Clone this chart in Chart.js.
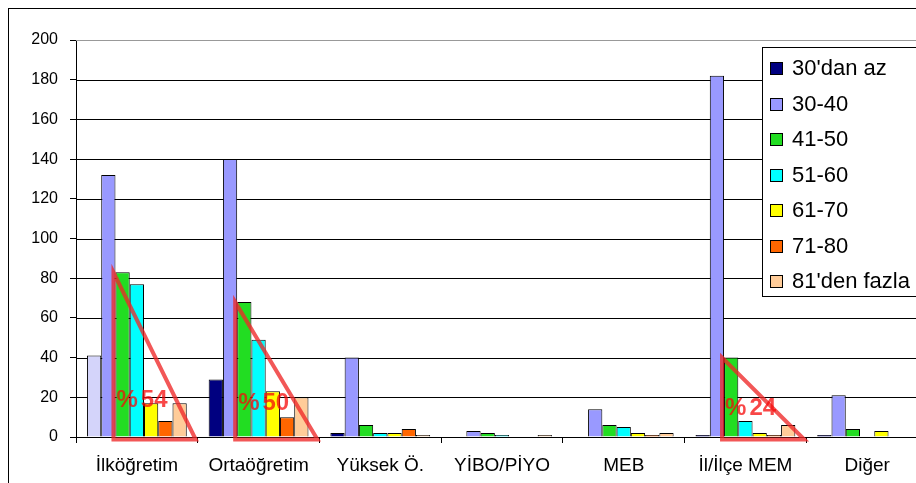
<!DOCTYPE html>
<html lang="tr">
<head>
<meta charset="utf-8">
<title>Yaş dağılımı</title>
<script src="https://cdn.jsdelivr.net/npm/chart.js@4.4.0/dist/chart.umd.min.js"></script>
<style>
html, body { margin: 0; padding: 0; background: #fff; overflow: hidden; }
#cerceve { position: absolute; left: 8px; top: 8px; width: 960px; height: 500px; border: 1px solid #000; }
#kutu { position: absolute; left: 0; top: 0; width: 940px; height: 483px; }
</style>
</head>
<body>
<div id="cerceve"></div>
<div id="kutu"><canvas id="GrafikYas" width="940" height="483"></canvas></div>
<script>
// kurum türleri ve yaş grupları
var kategoriler = ['İlköğretim', 'Ortaöğretim', 'Yüksek Ö.', 'YİBO/PİYO', 'MEB', 'İl/İlçe MEM', 'Diğer'];
var seriAdlari = ["30'dan az", '30-40', '41-50', '51-60', '61-70', '71-80', "81'den fazla"];

var yas30dan = [41, 29, 2, 0, 0, 1, 1];
var yas30_40 = [132, 140, 40, 3, 14, 182, 21];
var yas41_50 = [83, 68, 6, 2, 6, 40, 4];
var yas51_60 = [77, 49, 2, 1, 5, 8, 0];
var yas61_70 = [17, 23, 2, 0, 2, 2, 3];
var yas71_80 = [8, 10, 4, 0, 1, 1, 0];
var yas81den = [17, 20, 1, 1, 2, 6, 0];

var yMin = 0, yMax = 200, yAdim = 20;

// üçgenle işaretlenen kurumlar (41 yaş ve üstü oranı yazılır)
var vurgulananlar = [0, 1, 5];

var renkler = ['#000080', '#9999ff', '#22dd22', '#00ffff', '#ffff00', '#ff6600', '#ffcc99'];
var seriler = [yas30dan, yas30_40, yas41_50, yas51_60, yas61_70, yas71_80, yas81den];
var yazi = '"Liberation Sans", Arial, sans-serif';

var datasets = [];
for (var i = 0; i < seriler.length; i++) {
    var renk = renkler[i];
    if (i == 0) {
        // ilköğretimdeki ilk sütun açık renkli
        renk = seriler[0].map(function(v, k) { return k == 0 ? '#d4d4fa' : renkler[0]; });
    }
    datasets.push({
        label: seriAdlari[i],
        data: seriler[i],
        backgroundColor: renk,
        borderColor: '#000',
        borderWidth: function(ctx) { return ctx.raw === 0 ? 0 : 1; },
        borderSkipped: 'start',
        categoryPercentage: 0.82,
        barPercentage: 1
    });
}

function oran(k) {
    var toplam = 0, ust = 0;
    for (var s = 0; s < seriler.length; s++) {
        toplam += seriler[s][k];
        if (s >= 2) ust += seriler[s][k];
    }
    return Math.round(100 * ust / toplam);
}

// yatay çizgiler ve üstteki gri kenar
var izgara = {
    id: 'izgara',
    beforeDatasetsDraw: function(chart) {
        var ctx = chart.ctx;
        var ca = chart.chartArea;
        var y = chart.scales.y;
        ctx.save();
        ctx.lineWidth = 1;
        for (var v = yMin; v <= yMax; v += yAdim) {
            var py = Math.round(y.getPixelForValue(v)) + 0.5;
            ctx.strokeStyle = v == yMax ? '#999' : '#000';
            ctx.beginPath();
            ctx.moveTo(ca.left, py);
            ctx.lineTo(ca.right, py);
            ctx.stroke();
        }
        ctx.restore();
    }
};

var ucgenler = {
    id: 'ucgenler',
    afterDatasetsDraw: function(chart) {
        var ctx = chart.ctx;
        var yesil = chart.getDatasetMeta(2);
        var son = chart.getDatasetMeta(6);
        vurgulananlar.forEach(function(k) {
            var g = yesil.data[k];
            var p = son.data[k];
            var sol = g.x - g.width / 2 - 2;
            var ust = g.y;
            var alt = g.base + 3;
            var sag = p.x + p.width / 2 + 9;
            ctx.save();
            ctx.beginPath();
            ctx.moveTo(sol, ust);
            ctx.lineTo(sol, alt);
            ctx.lineTo(sag, alt);
            ctx.closePath();
            ctx.lineWidth = 4;
            ctx.lineJoin = 'miter';
            ctx.strokeStyle = 'rgba(238, 40, 40, 0.78)';
            ctx.stroke();
            ctx.font = 'bold 24px ' + yazi;
            ctx.fillStyle = 'rgba(245, 10, 10, 0.75)';
            ctx.textBaseline = 'middle';
            ctx.textAlign = 'left';
            var ty = alt - 24 - 0.09 * (alt - ust);
            ctx.fillText('%', sol + 3, ty);
            ctx.fillText(String(oran(k)), sol + 6 + ctx.measureText('%').width, ty);
            ctx.restore();
        });
    }
};

var lejant = {
    id: 'lejant',
    afterDraw: function(chart) {
        var ctx = chart.ctx;
        var ca = chart.chartArea;
        var x0 = ca.right - 166, y0 = ca.top + 7;
        ctx.save();
        ctx.fillStyle = '#fff';
        ctx.fillRect(x0, y0, 200, 249);
        ctx.strokeStyle = '#000';
        ctx.lineWidth = 1;
        ctx.strokeRect(x0 + 0.5, y0 + 0.5, 200, 249);
        ctx.font = '22px ' + yazi;
        ctx.textBaseline = 'middle';
        chart.data.datasets.forEach(function(ds, i) {
            var yc = y0 + 21 + i * 35.5;
            ctx.fillStyle = renkler[i];
            ctx.fillRect(x0 + 8, Math.round(yc - 6), 12, 12);
            ctx.strokeStyle = '#000';
            ctx.strokeRect(x0 + 8.5, Math.round(yc - 6) + 0.5, 12, 12);
            ctx.fillStyle = '#000';
            ctx.fillText(ds.label, x0 + 30, yc + 1);
        });
        ctx.restore();
    }
};

var grafik = new Chart(document.getElementById('GrafikYas'), {
    type: 'bar',
    data: { labels: kategoriler, datasets: datasets },
    plugins: [izgara, ucgenler, lejant],
    options: {
        responsive: false,
        animation: false,
        layout: { padding: { left: 0, top: 40, right: 12, bottom: 0 } },
        plugins: { legend: { display: false }, tooltip: { enabled: false } },
        scales: {
            x: {
                afterFit: function(s) { s.height = 46; },
                grid: { drawOnChartArea: false, tickLength: 6, color: '#000', offset: true },
                border: { color: '#000' },
                ticks: { color: '#000', padding: 11, maxRotation: 0, font: { size: 19, family: yazi } }
            },
            y: {
                min: yMin,
                max: yMax,
                afterFit: function(s) { s.width = 76; },
                grid: { drawOnChartArea: false, tickLength: 6, color: '#000' },
                border: { color: '#000' },
                ticks: { stepSize: yAdim, color: '#000', padding: 12, font: { size: 16, family: yazi } }
            }
        }
    }
});
</script>
</body>
</html>
